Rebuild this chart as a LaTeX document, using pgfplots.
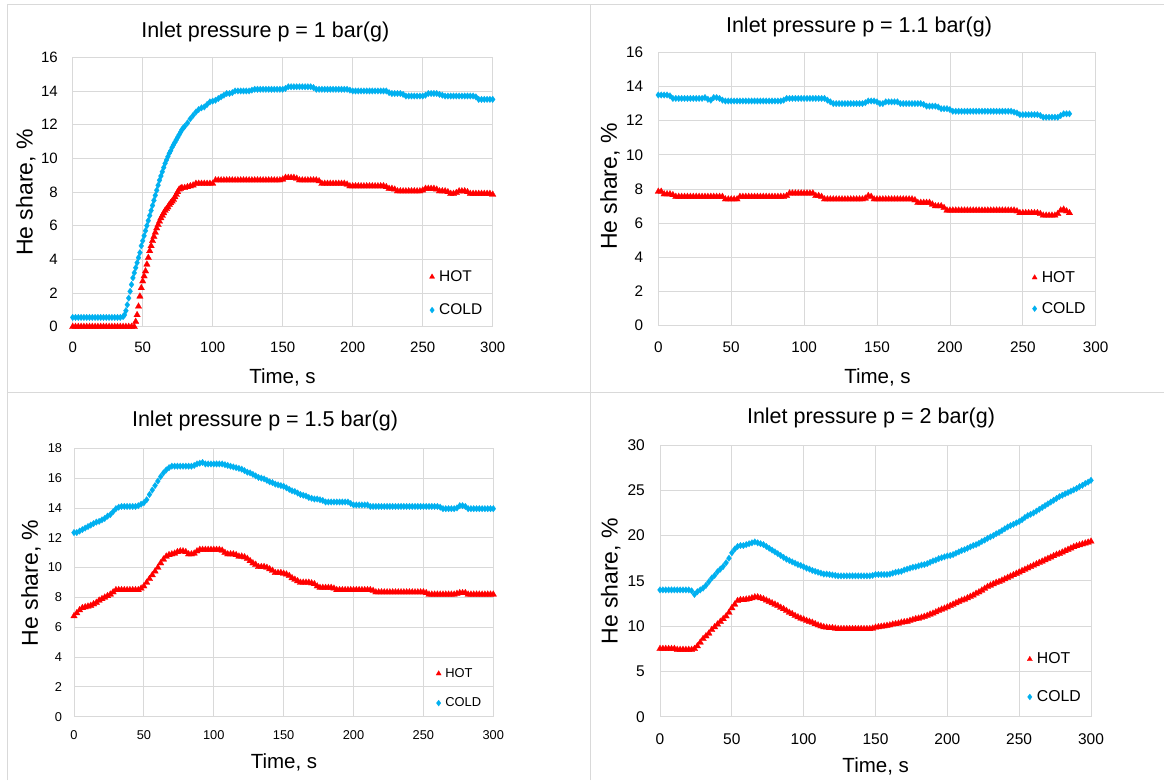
\documentclass[border=0pt]{standalone}
\usepackage{fontspec}
\setmainfont{Liberation Sans}
\usepackage{pgfplots}
\pgfplotsset{compat=1.18}
\definecolor{hotc}{HTML}{FF0000}
\definecolor{coldc}{HTML}{00B0F0}
\definecolor{gridc}{HTML}{D9D9D9}
\pgfplotsset{
 panel/.style={scale only axis, xmin=0, xmax=300, ymin=0, xtick={0,50,...,300},
  grid=major, major grid style={draw=gridc, line width=0.8pt},
  axis line style={draw=gridc, line width=0.8pt},
  major tick length=0pt,
  clip=false,
  /pgf/number format/assume math mode=true,
  tick label style={inner sep=0pt, text=black},
  legend cell align=left,
  legend image code/.code={\draw[##1,mark size=3pt] plot coordinates {(0pt,0pt)};},
 },
 hot/.style={only marks, mark=triangle*, mark size=3.8pt, color=hotc, mark options={draw=hotc, fill=hotc, line width=0.2pt}},
 cold/.style={only marks, mark=diamond*, mark size=3.3pt, color=coldc, mark options={draw=coldc, fill=coldc, line width=0.2pt}},
}
\newcommand{\titlefont}{\fontsize{21.5}{24}\selectfont}
\newcommand{\xlabfont}{\fontsize{20.5}{24}\selectfont}
\newcommand{\ylabfont}{\fontsize{23}{26}\selectfont}
\begin{document}
\begin{tikzpicture}[x=1pt,y=1pt]
\path[use as bounding box, fill=white] (0,0) rectangle (1164,780);
\draw[gridc, line width=1pt] (7,775.7)--(1164,775.7) (7,387)--(1164,387) (7,0)--(7,775.7) (590.3,0)--(590.3,775.7);

% ---------- Panel 1 ----------
\begin{axis}[panel, at={(72.7pt,453.3pt)}, anchor=south west, width=420pt, height=269.4pt,
  ymax=16, ytick={0,2,...,16},
  tick label style={font=\fontsize{15}{18}\selectfont},
  xticklabel style={yshift=-15pt}, yticklabel style={xshift=-14.7pt},
  legend style={draw=none, fill=none, inner sep=0pt, at={(0.849,0.209)}, anchor=north west,
    font=\fontsize{15.5}{18}\selectfont, row sep=21pt, column sep=4.5pt, nodes={inner sep=0pt}}]
\addplot[hot] coordinates {(0,0)(2,0)(4,0)(6,0)(8,0)(10,0)(12,0)(14,0)(16,0)(18,0)(20,0)(22,0)(24,0)(26,0)(28,0)(30,0)(32,0)(34,0)(36,0)(38,0)(40,0)(42,0)(44,0)
(45,0.3)(46,0.7)(47,1.2)(48,1.8)(49,2.3)(50,2.7)(51,3.0)(52,3.3)(53,3.7)(54,4.1)(55,4.5)(56,4.8)(57,5.1)(58,5.35)(59,5.6)(60,5.85)(61,6.05)(62,6.25)(63,6.45)(64,6.6)(65,6.75)(66,6.9)(67,7.0)(68,7.1)(69,7.25)(70,7.35)(71,7.45)(72,7.55)(73,7.7)(74,7.85)(75,8.0)(76,8.15)(77,8.2)(78,8.25)(80,8.25)(82,8.3)(84,8.35)(86,8.4)(88,8.5)
(90,8.5)(92,8.5)(94,8.5)(96,8.5)(98,8.5)(100,8.5)(102,8.7)(104,8.7)(106,8.7)(108,8.7)(110,8.7)(112,8.7)(114,8.7)(116,8.7)(118,8.7)(120,8.7)(122,8.7)(124,8.7)(126,8.7)(128,8.7)(130,8.7)(132,8.7)(134,8.7)(136,8.7)(138,8.7)(140,8.7)(142,8.7)(144,8.7)(146,8.7)(148,8.7)(150,8.75)
(152,8.85)(154,8.85)(156,8.85)(158,8.85)(160,8.8)(162,8.7)(164,8.7)(166,8.7)(168,8.7)(170,8.7)(172,8.7)(174,8.7)(176,8.65)(178,8.5)(180,8.5)(182,8.5)(184,8.5)(186,8.5)(188,8.5)(190,8.5)(192,8.5)(194,8.5)(196,8.45)(198,8.35)(200,8.35)(202,8.35)(204,8.35)(206,8.35)(208,8.35)(210,8.35)(212,8.35)(214,8.35)(216,8.35)(218,8.35)(220,8.35)(222,8.35)(224,8.3)
(226,8.2)(228,8.2)(230,8.15)(232,8.05)(234,8.05)(236,8.05)(238,8.05)(240,8.05)(242,8.05)(244,8.05)(246,8.05)(248,8.05)(250,8.1)(252,8.2)(254,8.2)(256,8.2)(258,8.2)(260,8.15)(262,8.05)(264,8.05)(266,8.05)(268,8.0)(270,7.9)(272,7.9)(274,7.95)(276,8.05)(278,8.05)(280,8.05)(282,8.0)(284,7.9)(286,7.9)(288,7.9)(290,7.9)(292,7.9)(294,7.9)(296,7.9)(298,7.9)(300,7.85)};
\addlegendentry{HOT}
\addplot[cold] coordinates {(0,0.55)(2,0.55)(4,0.55)(6,0.55)(8,0.55)(10,0.55)(12,0.55)(14,0.55)(16,0.55)(18,0.55)(20,0.55)(22,0.55)(24,0.55)(26,0.55)(28,0.55)(30,0.55)(32,0.55)(34,0.55)(36,0.6)
(37,0.7)(38,0.95)(39,1.3)(40,1.7)(41,2.1)(42,2.5)(43,2.9)(44,3.2)(45,3.5)(46,3.8)(47,4.1)(48,4.4)(49,4.8)(50,5.1)(51,5.4)(52,5.7)(53,6.0)(54,6.3)(55,6.6)(56,6.9)(57,7.2)(58,7.5)(59,7.8)(60,8.1)(61,8.4)(62,8.7)(63,8.95)(64,9.2)(65,9.45)(66,9.7)(67,9.9)(68,10.1)(69,10.3)(70,10.45)(71,10.65)(72,10.8)(73,10.95)(74,11.1)(75,11.25)(76,11.4)(77,11.55)(78,11.7)(79,11.8)(80,11.9)
(82,12.1)(84,12.35)(86,12.55)(88,12.75)(90,12.9)(92,13.0)(94,13.05)(96,13.2)(98,13.35)(100,13.4)(102,13.45)(104,13.55)(106,13.65)(108,13.75)(110,13.85)(112,13.85)(114,13.9)(116,14.0)(118,14.0)(120,14.0)(122,14.0)(124,14.0)(126,14.0)(128,14.05)
(130,14.1)(132,14.1)(134,14.1)(136,14.1)(138,14.1)(140,14.1)(142,14.1)(144,14.1)(146,14.1)(148,14.1)(150,14.1)(152,14.15)(154,14.25)(156,14.25)(158,14.25)(160,14.25)(162,14.25)(164,14.25)(166,14.25)(168,14.25)(170,14.25)(172,14.2)(174,14.1)(176,14.1)(178,14.1)(180,14.1)(182,14.1)(184,14.1)(186,14.1)(188,14.1)(190,14.1)(192,14.1)(194,14.1)(196,14.1)(198,14.05)
(200,14.0)(202,14.0)(204,14.0)(206,14.0)(208,14.0)(210,14.0)(212,14.0)(214,14.0)(216,14.0)(218,14.0)(220,14.0)(222,14.0)(224,14.0)(226,13.9)(228,13.85)(230,13.85)(232,13.85)(234,13.85)(236,13.8)(238,13.7)(240,13.7)(242,13.7)(244,13.7)(246,13.7)(248,13.7)(250,13.7)(252,13.75)(254,13.85)(256,13.85)(258,13.85)(260,13.85)(262,13.8)(264,13.75)
(266,13.7)(268,13.7)(270,13.7)(272,13.7)(274,13.7)(276,13.7)(278,13.7)(280,13.7)(282,13.7)(284,13.7)(286,13.7)(288,13.65)(290,13.5)(292,13.5)(294,13.5)(296,13.5)(298,13.5)(300,13.5)};
\addlegendentry{COLD}
\end{axis}

% ---------- Panel 2 ----------
\begin{axis}[panel, at={(658.3pt,454.3pt)}, anchor=south west, width=437.4pt, height=273.4pt,
  ymax=16, ytick={0,2,...,16},
  tick label style={font=\fontsize{15.3}{18}\selectfont},
  xticklabel style={yshift=-16pt}, yticklabel style={xshift=-15pt},
  legend style={draw=none, fill=none, inner sep=0pt, at={(0.854,0.1997)}, anchor=north west,
    font=\fontsize{15.8}{18}\selectfont, row sep=18.6pt, column sep=4.5pt, nodes={inner sep=0pt}}]
\addplot[hot] coordinates {(0,7.85)(2,7.85)(4,7.7)(6,7.7)(8,7.7)(10,7.65)(12,7.55)(14,7.55)(16,7.55)(18,7.55)(20,7.55)(22,7.55)(24,7.55)(26,7.55)(28,7.55)(30,7.55)(32,7.55)(34,7.55)(36,7.55)(38,7.55)(40,7.55)(42,7.55)(44,7.55)
(46,7.4)(48,7.4)(50,7.4)(52,7.4)(54,7.4)(56,7.55)(58,7.55)(60,7.55)(62,7.55)(64,7.55)(66,7.55)(68,7.55)(70,7.55)(72,7.55)(74,7.55)(76,7.55)(78,7.55)(80,7.55)(82,7.55)(84,7.55)(86,7.55)(88,7.6)
(90,7.75)(92,7.75)(94,7.75)(96,7.75)(98,7.75)(100,7.75)(102,7.75)(104,7.75)(106,7.75)(108,7.6)(110,7.6)(112,7.55)(114,7.4)(116,7.4)(118,7.4)(120,7.4)(122,7.4)(124,7.4)(126,7.4)(128,7.4)(130,7.4)(132,7.4)(134,7.4)(136,7.4)(138,7.4)(140,7.4)(142,7.45)(144,7.6)(146,7.55)
(148,7.4)(150,7.4)(152,7.4)(154,7.4)(156,7.4)(158,7.4)(160,7.4)(162,7.4)(164,7.4)(166,7.4)(168,7.4)(170,7.4)(172,7.4)(174,7.4)(176,7.35)(178,7.2)(180,7.2)(182,7.2)(184,7.2)(186,7.2)(188,7.1)(190,7.0)(192,7.0)(194,7.0)(196,6.9)
(198,6.75)(200,6.75)(202,6.75)(204,6.75)(206,6.75)(208,6.75)(210,6.75)(212,6.75)(214,6.75)(216,6.75)(218,6.75)(220,6.75)(222,6.75)(224,6.75)(226,6.75)(228,6.75)(230,6.75)(232,6.75)(234,6.75)(236,6.75)(238,6.75)(240,6.75)(242,6.75)(244,6.75)(246,6.7)
(248,6.6)(250,6.6)(252,6.6)(254,6.6)(256,6.6)(258,6.6)(260,6.6)(262,6.55)(264,6.45)(266,6.45)(268,6.45)(270,6.45)(272,6.45)(274,6.55)(276,6.75)(278,6.8)(280,6.7)(282,6.6)};
\addlegendentry{HOT}
\addplot[cold] coordinates {(0,13.5)(2,13.5)(4,13.5)(6,13.5)(8,13.45)(10,13.3)(12,13.3)(14,13.3)(16,13.3)(18,13.3)(20,13.3)(22,13.3)(24,13.3)(26,13.3)(28,13.3)(30,13.3)(32,13.35)(34,13.25)(36,13.2)(38,13.35)(40,13.35)(42,13.3)(44,13.2)
(46,13.15)(48,13.15)(50,13.15)(52,13.15)(54,13.15)(56,13.15)(58,13.15)(60,13.15)(62,13.15)(64,13.15)(66,13.15)(68,13.15)(70,13.15)(72,13.15)(74,13.15)(76,13.15)(78,13.15)(80,13.15)(82,13.15)(84,13.15)(86,13.2)
(88,13.3)(90,13.3)(92,13.3)(94,13.3)(96,13.3)(98,13.3)(100,13.3)(102,13.3)(104,13.3)(106,13.3)(108,13.3)(110,13.3)(112,13.3)(114,13.3)(116,13.2)(118,13.1)(120,13.0)(122,13.0)(124,13.0)(126,13.0)(128,13.0)(130,13.0)(132,13.0)(134,13.0)(136,13.0)(138,13.0)(140,13.0)(142,13.05)
(144,13.15)(146,13.15)(148,13.15)(150,13.1)(152,13.0)(154,13.0)(156,13.1)(158,13.1)(160,13.1)(162,13.1)(164,13.1)(166,13.0)(168,13.0)(170,13.0)(172,13.0)(174,13.0)(176,13.0)(178,13.0)(180,13.0)(182,12.95)(184,12.85)(186,12.85)(188,12.85)(190,12.85)(192,12.8)
(194,12.7)(196,12.7)(198,12.7)(200,12.65)(202,12.55)(204,12.55)(206,12.55)(208,12.55)(210,12.55)(212,12.55)(214,12.55)(216,12.55)(218,12.55)(220,12.55)(222,12.55)(224,12.55)(226,12.55)(228,12.55)(230,12.55)(232,12.55)(234,12.55)(236,12.55)(238,12.55)(240,12.55)(242,12.55)(244,12.5)
(246,12.45)(248,12.35)(250,12.35)(252,12.35)(254,12.35)(256,12.35)(258,12.35)(260,12.35)(262,12.3)(264,12.2)(266,12.2)(268,12.2)(270,12.2)(272,12.2)(274,12.2)(276,12.3)(278,12.4)(280,12.4)(282,12.4)};
\addlegendentry{COLD}
\end{axis}

% ---------- Panel 3 ----------
\begin{axis}[panel, at={(74pt,63.3pt)}, anchor=south west, width=419.3pt, height=268.4pt,
  ymax=18, ytick={0,2,...,18},
  tick label style={font=\fontsize{12.8}{15}\selectfont},
  xticklabel style={yshift=-13.3pt}, yticklabel style={xshift=-11.7pt},
  legend style={draw=none, fill=none, inner sep=0pt, at={(0.863,0.181)}, anchor=north west,
    font=\fontsize{12.9}{15}\selectfont, row sep=19pt, column sep=4pt, nodes={inner sep=0pt}}]
\addplot[hot] coordinates {(0,6.75)(2,6.95)(4,7.15)(6,7.3)(8,7.35)(10,7.4)(12,7.45)(14,7.55)(16,7.65)(18,7.8)(20,7.9)(22,8.0)(24,8.1)(26,8.2)(28,8.35)(30,8.5)(32,8.5)(34,8.5)(36,8.5)(38,8.5)(40,8.5)(42,8.5)(44,8.5)(46,8.5)(48,8.6)
(50,8.75)(52,9.0)(54,9.25)(56,9.5)(58,9.75)(60,10.0)(62,10.3)(64,10.55)(66,10.75)(68,10.85)(70,10.9)(72,10.95)(74,11.05)(76,11.1)(78,11.1)(80,11.05)(82,10.9)(84,10.9)(86,10.95)(88,11.1)(90,11.2)(92,11.2)(94,11.2)(96,11.2)(98,11.2)(100,11.2)(102,11.2)(104,11.2)(106,11.15)
(108,11.0)(110,10.9)(112,10.9)(114,10.9)(116,10.85)(118,10.75)(120,10.75)(122,10.7)(124,10.6)(126,10.45)(128,10.3)(130,10.2)(132,10.05)(134,10.05)(136,10.05)(138,10.0)(140,9.9)(142,9.8)(144,9.65)(146,9.65)(148,9.65)(150,9.6)(152,9.55)(154,9.45)(156,9.3)(158,9.2)(160,9.1)
(162,9.0)(164,9.0)(166,9.0)(168,9.0)(170,8.95)(172,8.9)(174,8.75)(176,8.65)(178,8.65)(180,8.65)(182,8.65)(184,8.65)(186,8.6)(188,8.5)(190,8.5)(192,8.5)(194,8.5)(196,8.5)(198,8.5)(200,8.5)(202,8.5)(204,8.5)(206,8.5)(208,8.5)(210,8.5)(212,8.5)(214,8.45)
(216,8.35)(218,8.35)(220,8.35)(222,8.35)(224,8.35)(226,8.35)(228,8.35)(230,8.35)(232,8.35)(234,8.35)(236,8.35)(238,8.35)(240,8.35)(242,8.35)(244,8.35)(246,8.35)(248,8.35)(250,8.35)(252,8.3)(254,8.2)(256,8.2)(258,8.2)(260,8.2)(262,8.2)(264,8.2)(266,8.2)(268,8.2)(270,8.2)(272,8.2)(274,8.25)
(276,8.3)(278,8.3)(280,8.3)(282,8.2)(284,8.2)(286,8.2)(288,8.2)(290,8.2)(292,8.2)(294,8.2)(296,8.2)(298,8.2)(300,8.2)};
\addlegendentry{HOT}
\addplot[cold] coordinates {(0,12.35)(2,12.35)(4,12.45)(6,12.55)(8,12.65)(10,12.75)(12,12.85)(14,12.95)(16,13.05)(18,13.1)(20,13.2)(22,13.3)(24,13.45)(26,13.55)(28,13.75)(30,13.95)(32,14.05)(34,14.1)(36,14.1)(38,14.1)(40,14.1)(42,14.1)(44,14.1)(46,14.15)(48,14.25)
(50,14.35)(52,14.55)(54,14.9)(56,15.2)(58,15.5)(60,15.8)(62,16.1)(64,16.35)(66,16.55)(68,16.7)(70,16.8)(72,16.8)(74,16.8)(76,16.8)(78,16.8)(80,16.8)(82,16.8)(84,16.8)(86,16.85)(88,16.95)(90,17.0)(92,17.05)(94,16.95)(96,16.95)(98,16.95)(100,16.95)(102,16.95)(104,16.95)(106,16.95)(108,16.9)
(110,16.85)(112,16.8)(114,16.75)(116,16.7)(118,16.65)(120,16.6)(122,16.5)(124,16.4)(126,16.35)(128,16.25)(130,16.15)(132,16.05)(134,16.0)(136,15.95)(138,15.85)(140,15.75)(142,15.7)(144,15.6)(146,15.55)(148,15.5)(150,15.45)(152,15.35)(154,15.25)(156,15.15)(158,15.1)(160,15.0)
(162,14.9)(164,14.85)(166,14.8)(168,14.7)(170,14.65)(172,14.6)(174,14.6)(176,14.55)(178,14.5)(180,14.4)(182,14.4)(184,14.4)(186,14.4)(188,14.4)(190,14.4)(192,14.4)(194,14.4)(196,14.4)(198,14.3)(200,14.2)(202,14.2)(204,14.2)(206,14.2)(208,14.2)(210,14.2)
(212,14.1)(214,14.1)(216,14.1)(218,14.1)(220,14.1)(222,14.1)(224,14.1)(226,14.1)(228,14.1)(230,14.1)(232,14.1)(234,14.1)(236,14.1)(238,14.1)(240,14.1)(242,14.1)(244,14.1)(246,14.1)(248,14.1)(250,14.1)(252,14.1)(254,14.1)(256,14.1)(258,14.1)(260,14.1)(262,14.05)
(264,13.95)(266,13.95)(268,13.95)(270,13.95)(272,13.95)(274,14.0)(276,14.15)(278,14.15)(280,14.1)(282,13.95)(284,13.95)(286,13.95)(288,13.95)(290,13.95)(292,13.95)(294,13.95)(296,13.95)(298,13.95)(300,13.95)};
\addlegendentry{COLD}
\end{axis}

% ---------- Panel 4 ----------
\begin{axis}[panel, at={(660pt,63.3pt)}, anchor=south west, width=431pt, height=271.7pt,
  ymax=30, ytick={0,5,...,30},
  tick label style={font=\fontsize{15.5}{18}\selectfont},
  xticklabel style={yshift=-16.7pt}, yticklabel style={xshift=-15pt},
  legend style={draw=none, fill=none, inner sep=0pt, at={(0.8515,0.2356)}, anchor=north west,
    font=\fontsize{15.8}{18}\selectfont, row sep=25.3pt, column sep=4.5pt, nodes={inner sep=0pt}}]
\addplot[hot] coordinates {(0,7.5)(2,7.5)(4,7.5)(6,7.5)(8,7.5)(10,7.5)(12,7.4)(14,7.4)(16,7.4)(18,7.4)(20,7.4)(22,7.4)(24,7.5)(26,7.8)(28,8.2)(30,8.6)(32,8.9)(34,9.2)(36,9.6)(38,9.9)(40,10.2)(42,10.5)(44,10.8)(46,11.1)(48,11.5)(50,12.0)(52,12.4)(54,12.8)(56,12.9)(58,12.9)
(60,12.95)(62,13.0)(64,13.1)(66,13.2)(68,13.2)(70,13.1)(72,13.0)(74,12.85)(76,12.7)(78,12.55)(80,12.4)(82,12.25)(84,12.05)(86,11.9)(88,11.7)(90,11.5)(92,11.35)(94,11.15)(96,11.0)(98,10.85)(100,10.75)(102,10.6)(104,10.5)(106,10.4)(108,10.25)(110,10.1)(112,10.0)(114,9.9)(116,9.85)(118,9.8)
(120,9.8)(122,9.75)(124,9.7)(126,9.7)(128,9.7)(130,9.7)(132,9.7)(134,9.7)(136,9.7)(138,9.7)(140,9.7)(142,9.7)(144,9.7)(146,9.7)(148,9.75)(150,9.85)(152,9.9)(154,9.95)(156,10.0)(158,10.05)(160,10.1)(162,10.2)(164,10.25)(166,10.3)(168,10.4)(170,10.45)(172,10.5)(174,10.6)(176,10.7)(178,10.8)
(180,10.85)(182,10.95)(184,11.05)(186,11.15)(188,11.3)(190,11.4)(192,11.55)(194,11.7)(196,11.85)(198,11.95)(200,12.1)(202,12.25)(204,12.4)(206,12.55)(208,12.7)(210,12.85)(212,12.95)(214,13.1)(216,13.25)(218,13.4)(220,13.6)(222,13.75)(224,13.95)(226,14.15)(228,14.35)(230,14.5)(232,14.65)(234,14.8)(236,14.9)(238,15.05)
(240,15.2)(242,15.35)(244,15.5)(246,15.65)(248,15.8)(250,15.95)(252,16.1)(254,16.25)(256,16.4)(258,16.55)(260,16.7)(262,16.85)(264,17.0)(266,17.15)(268,17.3)(270,17.45)(272,17.6)(274,17.75)(276,17.9)(278,18.0)(280,18.15)(282,18.3)(284,18.45)(286,18.6)(288,18.75)(290,18.85)(292,18.95)(294,19.05)(296,19.15)(298,19.25)(300,19.35)};
\addlegendentry{HOT}
\addplot[cold] coordinates {(0,14.0)(2,14.0)(4,14.0)(6,14.0)(8,14.0)(10,14.0)(12,14.0)(14,14.0)(16,14.0)(18,14.0)(20,14.0)(22,13.9)(24,13.5)(26,13.8)(28,14.0)(30,14.2)(32,14.5)(34,14.9)(36,15.3)(38,15.6)(40,16.0)(42,16.3)(44,16.6)(46,17.0)(48,17.5)(50,18.1)(52,18.5)(54,18.8)(56,18.9)(58,18.9)
(60,19.0)(62,19.1)(64,19.2)(66,19.3)(68,19.2)(70,19.1)(72,19.0)(74,18.8)(76,18.6)(78,18.4)(80,18.2)(82,18.0)(84,17.8)(86,17.6)(88,17.4)(90,17.25)(92,17.1)(94,16.95)(96,16.8)(98,16.7)(100,16.55)(102,16.4)(104,16.3)(106,16.15)(108,16.05)(110,15.95)(112,15.85)(114,15.75)(116,15.75)(118,15.7)
(120,15.65)(122,15.6)(124,15.55)(126,15.55)(128,15.55)(130,15.55)(132,15.55)(134,15.55)(136,15.55)(138,15.55)(140,15.55)(142,15.55)(144,15.55)(146,15.55)(148,15.6)(150,15.7)(152,15.7)(154,15.7)(156,15.7)(158,15.7)(160,15.75)(162,15.85)(164,15.95)(166,16.0)(168,16.05)(170,16.2)(172,16.3)(174,16.4)(176,16.5)(178,16.55)
(180,16.65)(182,16.75)(184,16.8)(186,16.9)(188,17.05)(190,17.2)(192,17.3)(194,17.45)(196,17.55)(198,17.65)(200,17.75)(202,17.8)(204,17.9)(206,18.05)(208,18.2)(210,18.35)(212,18.45)(214,18.6)(216,18.75)(218,18.9)(220,19.0)(222,19.15)(224,19.35)(226,19.5)(228,19.7)(230,19.85)(232,20.0)(234,20.2)(236,20.35)(238,20.55)
(240,20.75)(242,20.95)(244,21.1)(246,21.25)(248,21.4)(250,21.55)(252,21.75)(254,22.0)(256,22.2)(258,22.35)(260,22.5)(262,22.7)(264,22.9)(266,23.1)(268,23.3)(270,23.5)(272,23.7)(274,23.9)(276,24.1)(278,24.3)(280,24.45)(282,24.6)(284,24.75)(286,24.9)(288,25.05)(290,25.2)(292,25.4)(294,25.55)(296,25.75)(298,25.9)(300,26.1)};
\addlegendentry{COLD}
\end{axis}

% ---------- texts ----------
\node[font=\titlefont] at (265.3,748) {Inlet pressure p = 1 bar(g)};
\node[font=\titlefont] at (859,753) {Inlet pressure p = 1.1 bar(g)};
\node[font=\titlefont] at (265,359) {Inlet pressure p = 1.5 bar(g)};
\node[font=\titlefont] at (871,362) {Inlet pressure p = 2 bar(g)};
\node[font=\xlabfont] at (282.5,403) {Time, s};
\node[font=\xlabfont] at (877.5,403) {Time, s};
\node[font=\xlabfont] at (284,17.3) {Time, s};
\node[font=\xlabfont] at (875.7,13.3) {Time, s};
\node[font=\ylabfont, rotate=90] at (25.7,587.5) {He share, \%};
\node[font=\ylabfont, rotate=90] at (610,593.3) {He share, \%};
\node[font=\ylabfont, rotate=90] at (31,197.2) {He share, \%};
\node[font=\ylabfont, rotate=90] at (610.7,198.7) {He share, \%};
\end{tikzpicture}
\end{document}
